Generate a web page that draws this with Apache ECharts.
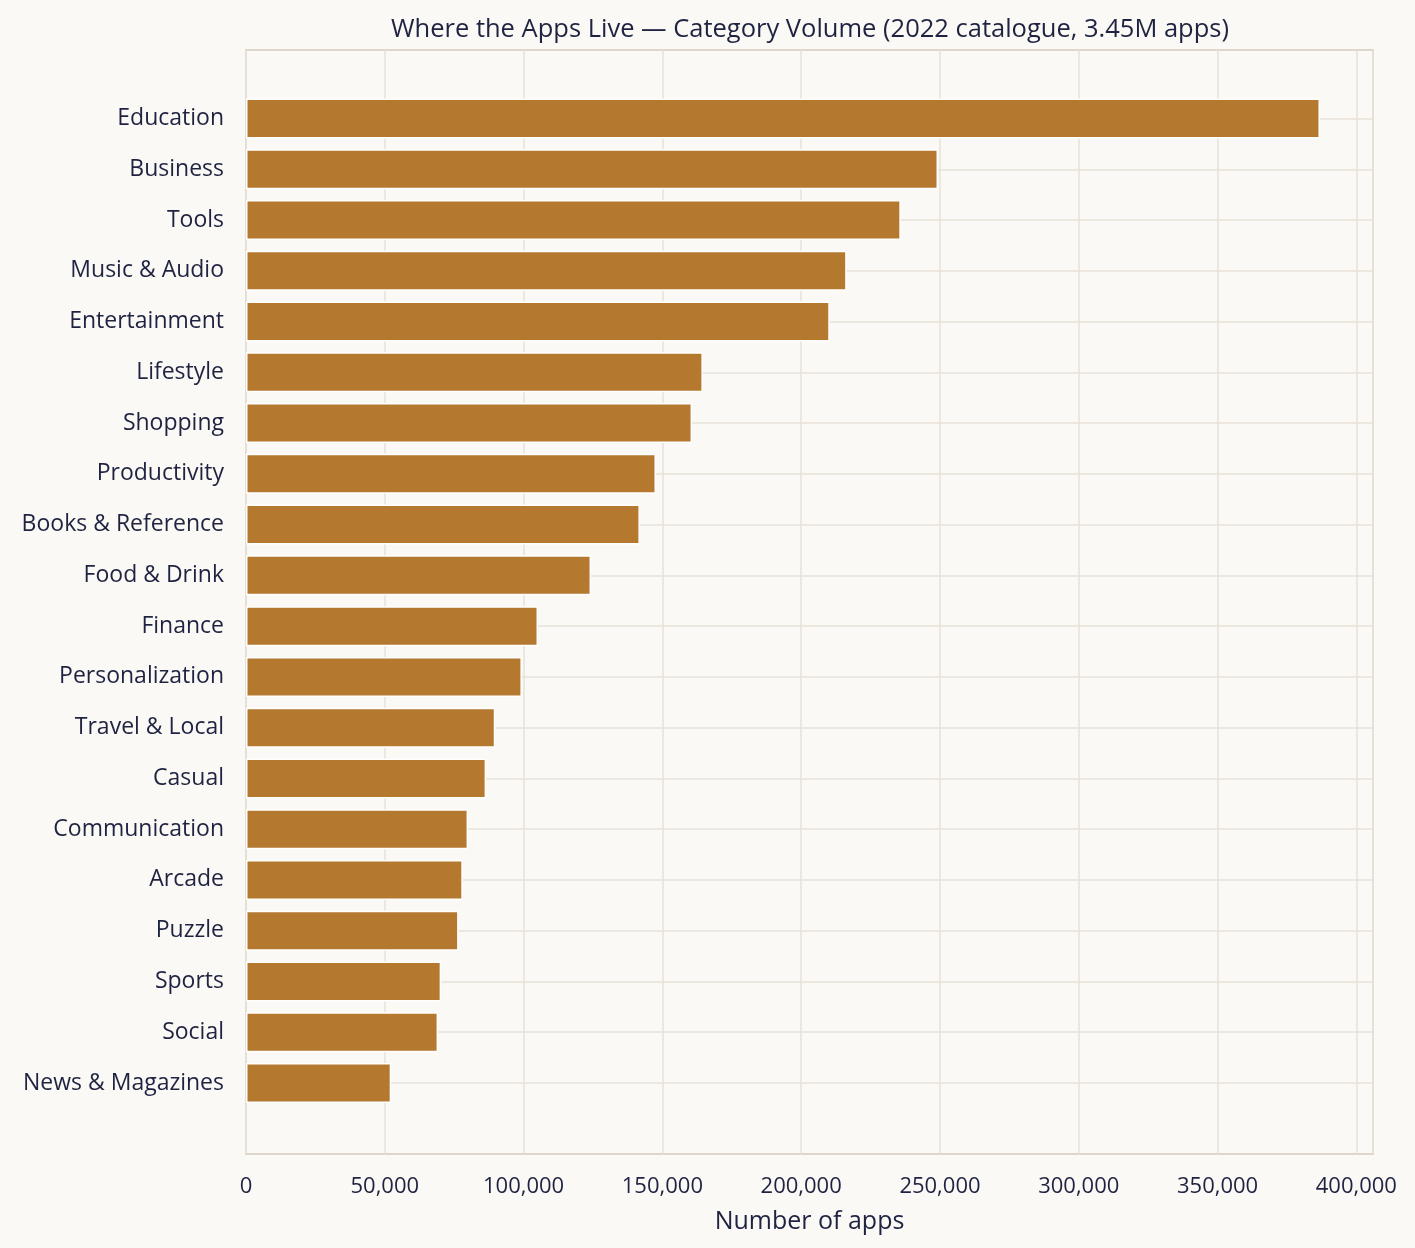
<!DOCTYPE html>
<html>
<head>
<meta charset="utf-8">
<script src="https://cdn.jsdelivr.net/npm/echarts@6/dist/echarts.min.js"></script>
<style>
  html, body { margin: 0; padding: 0; background: #faf9f5; }
  #chart { width: 1415px; height: 1248px; }
</style>
</head>
<body>
<div id="chart"></div>
<script>
// app categories, largest first
const categories = [
  'Education', 'Business', 'Tools', 'Music & Audio', 'Entertainment',
  'Lifestyle', 'Shopping', 'Productivity', 'Books & Reference', 'Food & Drink',
  'Finance', 'Personalization', 'Travel & Local', 'Casual', 'Communication',
  'Arcade', 'Puzzle', 'Sports', 'Social', 'News & Magazines'
];
const appCounts = [
  386900, 249300, 235900, 216400, 210300,
  164600, 160700, 147700, 141900, 124300,
  105200, 99400, 89800, 86500, 80000,
  78100, 76600, 70300, 69200, 52300
];
const xTicks = [0, 50000, 100000, 150000, 200000, 250000, 300000, 350000, 400000];

const FONT = "'Open Sans', sans-serif";
const INK = '#1f2341';
const GRID_LINE = '#e7e2d9';
const xMax = 406000;

const chart = echarts.init(document.getElementById('chart'));
chart.setOption({
  animation: false,
  backgroundColor: '#faf9f5',
  textStyle: { fontFamily: FONT, color: INK },
  title: {
    text: 'Where the Apps Live \u2014 Category Volume (2022 catalogue, 3.45M apps)',
    left: 805, top: 12, textAlign: 'center',
    textStyle: { fontFamily: FONT, fontSize: 25.5, fontWeight: 'normal', color: INK }
  },
  grid: [
    // outer frame
    { left: 246, right: 42, top: 50, bottom: 94, show: true,
      borderColor: '#ddd7cb', borderWidth: 2, backgroundColor: 'transparent' },
    // band of category centres
    { left: 246, right: 42, top: 118.5, bottom: 165 }
  ],
  xAxis: [
    {
      gridIndex: 0, type: 'value', min: xTicks[0], max: xMax, interval: 50000,
      axisLine: { show: false }, axisTick: { show: false },
      splitLine: { show: true, lineStyle: { color: GRID_LINE, width: 1.5 } },
      axisLabel: {
        showMaxLabel: false, margin: 22, fontSize: 22, color: INK, fontFamily: FONT,
        formatter: v => xTicks.includes(v) ? v.toLocaleString('en-US') : ''
      },
      name: 'Number of apps', nameLocation: 'middle', nameGap: 55,
      nameTextStyle: { fontSize: 25, color: INK, fontFamily: FONT }
    },
    { gridIndex: 1, type: 'value', min: 0, max: xMax, show: false }
  ],
  yAxis: [
    { gridIndex: 0, type: 'value', min: 0, max: 1, show: false },
    {
      gridIndex: 1, type: 'category', data: categories, inverse: true, boundaryGap: false,
      axisLine: { show: false }, axisTick: { show: false },
      axisLabel: { margin: 22, fontSize: 23, color: INK, fontFamily: FONT, interval: 0,
        padding: [5, 0, 0, 0] },
      splitLine: { show: true, lineStyle: { color: GRID_LINE, width: 1.5 } }
    }
  ],
  series: [{
    type: 'bar', xAxisIndex: 1, yAxisIndex: 1, data: appCounts,
    barWidth: 40, clip: false,
    itemStyle: { color: '#b4782f', borderColor: '#ffffff', borderWidth: 1.5 }
  }]
});
</script>
</body>
</html>
